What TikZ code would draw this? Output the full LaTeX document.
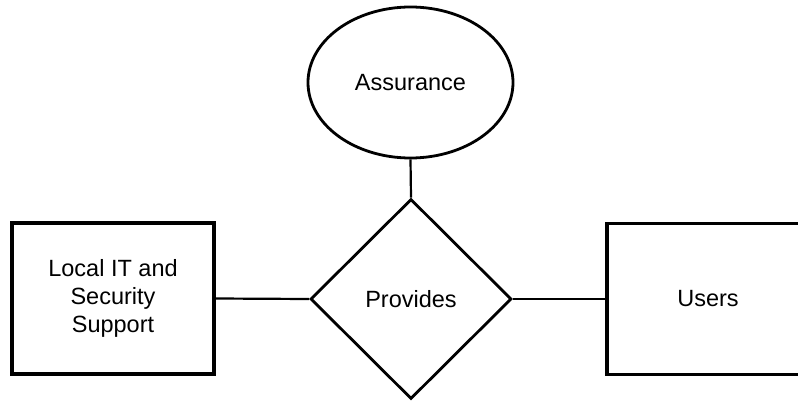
\documentclass[tikz,border=0pt]{standalone}
\usepackage{fontspec}
\setmainfont{Liberation Sans}
\usetikzlibrary{shapes.geometric}
\begin{document}
\begin{tikzpicture}[x=1pt,y=-1pt,
  label font/.style={font=\fontsize{23.5}{28}\selectfont},
  entity/.style={draw, line width=3.2pt, minimum width=202pt, minimum height=151pt,
    inner sep=0pt, align=center, label font},
  attribute/.style={draw, ellipse, line width=2.8pt, minimum width=205pt,
    minimum height=151pt, inner sep=0pt, label font},
  relation/.style={draw, diamond, line width=2.8pt, minimum width=201pt,
    minimum height=200pt, inner sep=0pt, label font},
  link/.style={draw, line width=2.2pt}]
\useasboundingbox (0,0) rectangle (798,404);
\clip (0,0) rectangle (798,404);

\node[entity]    (local)     at (113,298.5) {Local IT and\\Security\\Support};
\node[entity]    (users)     at (708,299)   {Users};
\node[attribute] (assurance) at (410.5,82.5) {Assurance};
\node[relation]  (provides)  at (411,299)   {Provides};

\path[link] (assurance.south) -- (provides.north);
\path[link] (local.east) -- (provides.west);
\path[link] (provides.east) -- (users.west);
\end{tikzpicture}
\end{document}
